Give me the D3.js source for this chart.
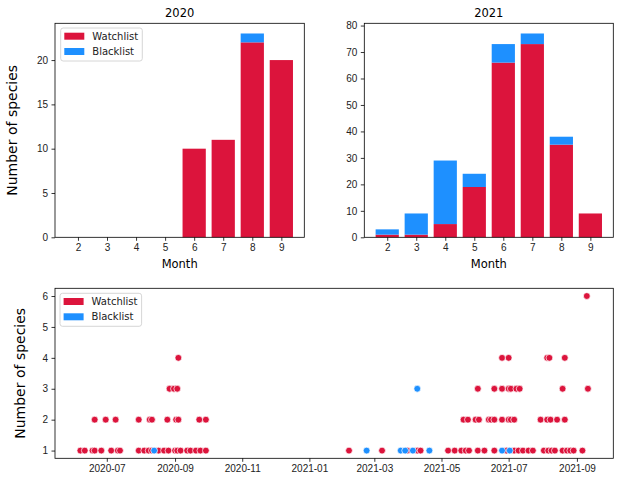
<!DOCTYPE html>
<html>
<head>
<meta charset="utf-8">
<script src="https://cdn.jsdelivr.net/npm/d3@7"></script>
<style>
body { margin: 0; background: #fff; }
svg { font-family: "DejaVu Sans", sans-serif; }
.tick text { font-size: 10px; fill: #222; }
.domain { display: none; }
.tick line { stroke: #000; stroke-width: 0.8; }
</style>
</head>
<body>
<svg width="620" height="482"></svg>
<script>
// monthly totals (bars)
var months = [2, 3, 4, 5, 6, 7, 8, 9];
var watch2020 = [0, 0, 0, 0, 10, 11, 22, 20];
var black2020 = [0, 0, 0, 0, 0, 0, 1, 0];
var watch2021 = [1, 1, 5, 19, 66, 73, 35, 9];
var black2021 = [2, 8, 24, 5, 7, 4, 3, 0];

// daily records (scatter)
var watchDates = [
  "2020-06-07", "2020-06-11", "2020-06-18", "2020-06-20", "2020-06-26", "2020-07-05", "2020-07-11", "2020-07-13",
  "2020-07-30", "2020-08-04", "2020-08-08", "2020-08-11", "2020-08-17", "2020-08-22", "2020-08-26", "2020-09-01",
  "2020-09-03", "2020-09-06", "2020-09-12", "2020-09-15", "2020-09-20", "2020-09-24", "2020-09-29",
  "2020-06-20", "2020-06-30", "2020-07-09", "2020-07-30", "2020-08-09", "2020-08-11", "2020-08-25", "2020-09-02",
  "2020-09-04", "2020-09-23", "2020-09-29",
  "2020-08-27", "2020-08-31", "2020-09-03",
  "2020-09-04",
  "2021-02-06", "2021-03-08", "2021-03-31", "2021-04-09", "2021-04-12", "2021-05-07", "2021-05-13", "2021-05-19",
  "2021-05-23", "2021-05-26", "2021-06-03", "2021-06-09", "2021-06-18", "2021-06-29", "2021-07-06", "2021-07-10",
  "2021-07-14", "2021-07-19", "2021-07-23", "2021-08-02", "2021-08-06", "2021-08-09", "2021-08-12", "2021-08-19",
  "2021-08-23", "2021-08-26", "2021-08-29", "2021-09-06",
  "2021-05-21", "2021-05-25", "2021-06-01", "2021-06-04", "2021-06-13", "2021-06-15", "2021-06-18", "2021-06-25",
  "2021-07-01", "2021-07-03", "2021-07-06", "2021-07-30", "2021-08-05", "2021-08-08", "2021-08-14", "2021-08-21",
  "2021-06-03", "2021-06-18", "2021-06-25", "2021-07-01", "2021-07-03", "2021-07-08", "2021-07-11", "2021-08-19",
  "2021-09-11",
  "2021-06-25", "2021-07-01", "2021-08-05", "2021-08-07", "2021-08-21",
  "2021-09-10"
];
var watchCounts = [
  1, 1, 1, 1, 1, 1, 1, 1, 1, 1, 1, 1, 1, 1, 1, 1, 1, 1, 1, 1, 1, 1, 1,
  2, 2, 2, 2, 2, 2, 2, 2, 2, 2, 2,
  3, 3, 3,
  4,
  1, 1, 1, 1, 1, 1, 1, 1, 1, 1, 1, 1, 1, 1, 1, 1, 1, 1, 1, 1, 1, 1, 1, 1, 1, 1, 1, 1,
  2, 2, 2, 2, 2, 2, 2, 2, 2, 2, 2, 2, 2, 2, 2, 2,
  3, 3, 3, 3, 3, 3, 3, 3, 3,
  4, 4, 4, 4, 4,
  6
];
var blackDates = ["2020-08-13", "2021-02-22", "2021-03-25", "2021-03-29", "2021-04-05", "2021-04-20",
  "2021-06-25", "2021-07-02", "2021-04-09"];
var blackCounts = [1, 1, 1, 1, 1, 1, 1, 1, 3];

var listNames = ["Watchlist", "Blacklist"];
var listColors = ["crimson", "dodgerblue"];

var svg = d3.select("svg");

function legend(g, x, y) {
  var lg = g.append("g").attr("transform", "translate(" + x + "," + y + ")");
  lg.append("rect")
    .attr("width", 81.6).attr("height", 33).attr("rx", 2.5)
    .attr("fill", "#fff").attr("fill-opacity", 0.8)
    .attr("stroke", "#ccc").attr("stroke-width", 0.8);
  listNames.forEach(function(name, i) {
    var cy = 8.2 + i * 15.3;
    lg.append("rect").attr("x", 3.6).attr("y", cy - 3.5).attr("width", 20).attr("height", 7)
      .attr("fill", listColors[i]);
    lg.append("text").attr("x", 31.6).attr("y", cy).attr("dy", "0.35em")
      .attr("font-size", 10).attr("fill", "#222").text(name);
  });
}

function frame(g, x0, y0, x1, y1) {
  g.append("rect").attr("x", x0).attr("y", y0).attr("width", x1 - x0).attr("height", y1 - y0)
    .attr("fill", "none").attr("stroke", "#000").attr("stroke-width", 0.8);
}

function barPanel(x0, x1, y0, y1, title, watch, black, yStep, withLegend, withYLabel) {
  var g = svg.append("g");
  var lo = months[0] - 0.4, hi = months[months.length - 1] + 0.4, pad = (hi - lo) * 0.05;
  var x = d3.scaleLinear().domain([lo - pad, hi + pad]).range([x0, x1]);
  var totals = watch.map(function(w, i) { return w + black[i]; });
  var y = d3.scaleLinear().domain([0, d3.max(totals) * 1.05]).range([y1, y0]);

  g.selectAll(".bw").data(months).enter().append("rect")
    .attr("x", function(m) { return x(m - 0.4); })
    .attr("width", function(m) { return x(m + 0.4) - x(m - 0.4); })
    .attr("y", function(m, i) { return y(watch[i]); })
    .attr("height", function(m, i) { return y(0) - y(watch[i]); })
    .attr("fill", listColors[0]);
  g.selectAll(".bb").data(months).enter().append("rect")
    .attr("x", function(m) { return x(m - 0.4); })
    .attr("width", function(m) { return x(m + 0.4) - x(m - 0.4); })
    .attr("y", function(m, i) { return y(totals[i]); })
    .attr("height", function(m, i) { return y(watch[i]) - y(totals[i]); })
    .attr("fill", listColors[1]);

  g.append("g").attr("transform", "translate(0," + y1 + ")")
    .call(d3.axisBottom(x).tickValues(months).tickFormat(d3.format("d")).tickSize(3.5).tickPadding(3.5));
  g.append("g").attr("transform", "translate(" + x0 + ",0)")
    .call(d3.axisLeft(y).tickValues(d3.range(0, y.domain()[1], yStep)).tickFormat(d3.format("d")).tickSize(3.5).tickPadding(3.5));

  frame(g, x0, y0, x1, y1);

  g.append("text").attr("x", (x0 + x1) / 2).attr("y", y0 - 6.5).attr("text-anchor", "middle")
    .attr("font-size", 11.5).attr("fill", "#000").text(title);
  g.append("text").attr("x", (x0 + x1) / 2).attr("y", y1 + 30.5).attr("text-anchor", "middle")
    .attr("font-size", 11.5).attr("fill", "#000").text("Month");
  if (withYLabel) {
    g.append("text").attr("transform", "translate(17," + (y0 + y1) / 2 + ") rotate(-90)")
      .attr("text-anchor", "middle").attr("font-size", 14).attr("fill", "#000").text("Number of species");
  }
  if (withLegend) legend(g, x0 + 5.7, y0 + 4.7);
}

barPanel(55, 304.3, 23.3, 237.3, "2020", watch2020, black2020, 5, true, true);
barPanel(364.3, 613.3, 23.3, 237.3, "2021", watch2021, black2021, 10, false, false);

// scatter of records per day
var parse = d3.utcParse("%Y-%m-%d");
var points = [];
watchDates.forEach(function(d, i) { points.push({date: parse(d), n: watchCounts[i], list: 0}); });
blackDates.forEach(function(d, i) { points.push({date: parse(d), n: blackCounts[i], list: 1}); });

var sx0 = 55, sx1 = 613.3, sy0 = 288.3, sy1 = 458.3;
var ext = d3.extent(points, function(p) { return +p.date; });
var tpad = (ext[1] - ext[0]) * 0.05;
var xs = d3.scaleUtc().domain([new Date(ext[0] - tpad), new Date(ext[1] + tpad)]).range([sx0, sx1]);
var yext = d3.extent(points, function(p) { return p.n; });
var ypad = (yext[1] - yext[0]) * 0.05;
var ys = d3.scaleLinear().domain([yext[0] - ypad, yext[1] + ypad]).range([sy1, sy0]);

var sg = svg.append("g");
sg.selectAll("circle").data(points).enter().append("circle")
  .attr("cx", function(p) { return xs(p.date); })
  .attr("cy", function(p) { return ys(p.n); })
  .attr("r", 3.4)
  .attr("fill", function(p) { return listColors[p.list]; })
  .attr("stroke", "#fff").attr("stroke-width", 0.7);

sg.append("g").attr("transform", "translate(0," + sy1 + ")")
  .call(d3.axisBottom(xs).ticks(d3.utcMonth.every(2)).tickFormat(d3.utcFormat("%Y-%m")).tickSize(3.5).tickPadding(3.5));
sg.append("g").attr("transform", "translate(" + sx0 + ",0)")
  .call(d3.axisLeft(ys).tickValues(d3.range(1, 7)).tickFormat(d3.format("d")).tickSize(3.5).tickPadding(3.5));
frame(sg, sx0, sy0, sx1, sy1);
sg.append("text").attr("transform", "translate(25.2," + (sy0 + sy1) / 2 + ") rotate(-90)")
  .attr("text-anchor", "middle").attr("font-size", 14).attr("fill", "#000").text("Number of species");
legend(sg, sx0 + 5, sy0 + 5);
</script>
</body>
</html>
